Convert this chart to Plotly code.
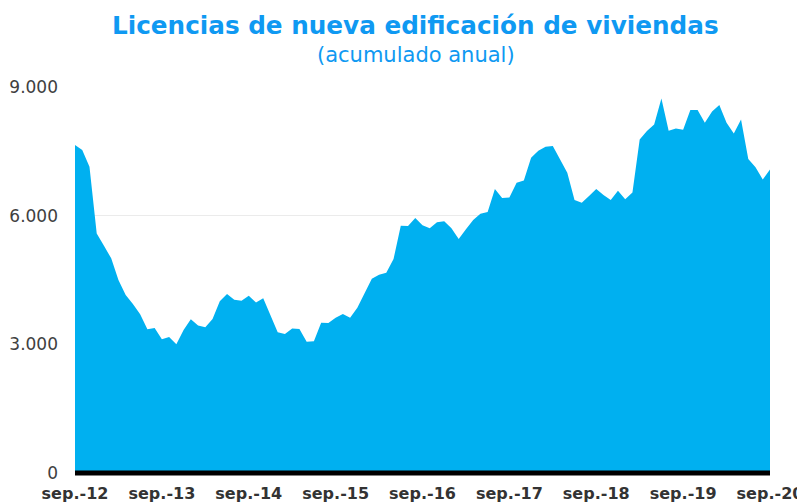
import plotly.graph_objects as go

values = [
    7646, 7529, 7140, 5587, 5299, 5005, 4499, 4149, 3939, 3699, 3349, 3380,
    3116, 3170, 3000, 3333, 3582, 3442, 3396, 3590, 4002, 4172, 4040, 4017,
    4133, 3978, 4072, 3683, 3279, 3240, 3372, 3357, 3061, 3070, 3504, 3497,
    3621, 3706, 3621, 3854, 4203, 4530, 4623, 4670, 4988, 5765, 5758, 5944,
    5774, 5704, 5844, 5867, 5704, 5455, 5681, 5897, 6044, 6084, 6620, 6410,
    6426, 6767, 6822, 7350, 7513, 7607, 7622, 7319, 7000, 6364, 6301, 6457,
    6620, 6480, 6364, 6581, 6380, 6543, 7778, 7972, 8128, 8734, 7980, 8035,
    8003, 8462, 8462, 8166, 8431, 8578, 8166, 7918, 8245, 7319, 7126, 6846,
    7079,
]
months = list(range(len(values)))
tick_pos = [0, 12, 24, 36, 48, 60, 72, 84, 96]
tick_labels = ["sep.-12", "sep.-13", "sep.-14", "sep.-15", "sep.-16",
               "sep.-17", "sep.-18", "sep.-19", "sep.-20"]
y_ticks = [0, 3000, 6000, 9000]
y_labels = ["0", "3.000", "6.000", "9.000"]

title = "Licencias de nueva edificación de viviendas"
subtitle = "(acumulado anual)"

fig = go.Figure()
fig.add_trace(go.Scatter(
    x=months, y=values, mode="lines", fill="tozeroy",
    line=dict(color="#00B0F0", width=0), fillcolor="#00B0F0",
    hoverinfo="skip",
))

# baseline axis line (thick black), centred on y = 0
fig.add_shape(type="line", xref="x", yref="paper", x0=months[0], x1=months[-1],
              y0=0, y1=0, line=dict(color="black", width=5), layer="above")

fig.add_annotation(text="<b>" + title + "</b>", xref="paper", yref="paper",
                   x=0.49, y=1.16, xanchor="center", yanchor="middle",
                   showarrow=False,
                   font=dict(family="DejaVu Sans", size=24.7, color="#0F99F2"))
fig.add_annotation(text=subtitle, xref="paper", yref="paper",
                   x=0.49, y=1.083, xanchor="center", yanchor="middle",
                   showarrow=False,
                   font=dict(family="DejaVu Sans", size=21, color="#0F99F2"))

# page body has an 8px margin, so the figure is sized to fit the window
fig.update_layout(
    width=797, height=496,
    margin=dict(l=66.5, r=35, t=79, b=31),
    paper_bgcolor="white", plot_bgcolor="white",
    showlegend=False,
    xaxis=dict(range=[0, 96], tickvals=tick_pos, ticktext=tick_labels,
               showgrid=False, zeroline=False, showline=False, ticks="",
               tickfont=dict(family="DejaVu Sans", size=16, color="#333333", weight="bold"),
               ticklabelstandoff=9, fixedrange=True, automargin=False),
    yaxis=dict(range=[0, 9000], tickvals=y_ticks, ticktext=y_labels,
               showgrid=True, gridcolor="#EBEBEB", gridwidth=1,
               zeroline=False, showline=False, ticks="",
               tickfont=dict(family="DejaVu Sans", size=17, color="#404040"),
               ticklabelstandoff=16, fixedrange=True, automargin=False),
)

fig.write_html("out.html")
